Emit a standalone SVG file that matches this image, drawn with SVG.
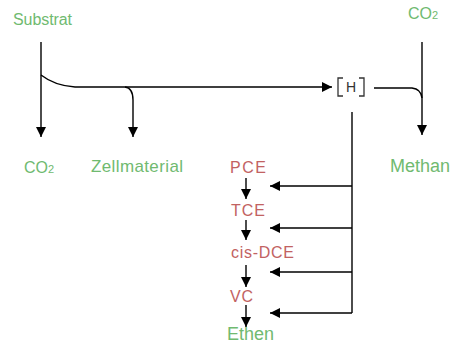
<svg xmlns="http://www.w3.org/2000/svg" width="454" height="344" viewBox="0 0 454 344">
<style>
text{font-family:"Liberation Sans",Arial,sans-serif;}
.g{fill:#70ba70;}
.r{fill:#c26262;}
.sub{font-size:11px;}
.ln{fill:none;stroke:#000;stroke-width:1.4;}
.br{fill:none;stroke:#333;stroke-width:1.3;}
</style>
<defs>
<marker id="ah" viewBox="0 0 10 10" refX="10" refY="5" markerWidth="10" markerHeight="12" markerUnits="userSpaceOnUse" orient="auto">
<path d="M0,0 L10,5 L0,10 z" fill="#000"/>
</marker>
</defs>
<rect width="454" height="344" fill="#fff"/>
<g id="connectors">
<path class="ln" d="M41,42 V137" marker-end="url(#ah)"/>
<path class="ln" d="M41,75 C50,82 60,86 75,87 H332" marker-end="url(#ah)"/>
<path class="ln" d="M125,87 Q133,88 133,100 V137" marker-end="url(#ah)"/>
<path class="ln" d="M422,42 V135" marker-end="url(#ah)"/>
<path class="ln" d="M374,88 H412 Q421,89 422,98"/>
<path class="ln" d="M352,112 V313"/>
<path class="ln" d="M352,186 H270" marker-end="url(#ah)"/>
<path class="ln" d="M352,228 H270" marker-end="url(#ah)"/>
<path class="ln" d="M352,272 H270" marker-end="url(#ah)"/>
<path class="ln" d="M352,313 H270" marker-end="url(#ah)"/>
<path class="ln" d="M246,178 V199" marker-end="url(#ah)"/>
<path class="ln" d="M246,220 V240" marker-end="url(#ah)"/>
<path class="ln" d="M246,265 V287" marker-end="url(#ah)"/>
<path class="ln" d="M246,305 V327" marker-end="url(#ah)"/>
</g>
<g id="substrat"><text class="g" x="13" y="25" font-size="16" textLength="59" lengthAdjust="spacing">Substrat</text></g>
<g id="co2-left"><text class="g" x="24" y="173" font-size="16">CO<tspan class="sub">2</tspan></text></g>
<g id="zellmaterial"><text class="g" x="91" y="172" font-size="17" textLength="92" lengthAdjust="spacing">Zellmaterial</text></g>
<g id="co2-top"><text class="g" x="408" y="19" font-size="16">CO<tspan class="sub">2</tspan></text></g>
<g id="methan"><text class="g" x="390" y="172" font-size="18" textLength="60" lengthAdjust="spacing">Methan</text></g>
<g id="h">
<path class="br" d="M343,78 H338 V96 H343"/>
<path class="br" d="M359,78 H364 V96 H359"/>
<text x="351" y="92" font-size="14" text-anchor="middle" fill="#333">H</text>
</g>
<g id="pce"><text class="r" x="230" y="173" font-size="16" textLength="36" lengthAdjust="spacing">PCE</text></g>
<g id="tce"><text class="r" x="231" y="216" font-size="16" textLength="34" lengthAdjust="spacing">TCE</text></g>
<g id="cis-dce"><text class="r" x="231" y="258" font-size="16" textLength="63" lengthAdjust="spacing">cis-DCE</text></g>
<g id="vc"><text class="r" x="230" y="302" font-size="16" textLength="23" lengthAdjust="spacing">VC</text></g>
<g id="ethen"><text class="g" x="227" y="340" font-size="18" textLength="47" lengthAdjust="spacing">Ethen</text></g>
</svg>
